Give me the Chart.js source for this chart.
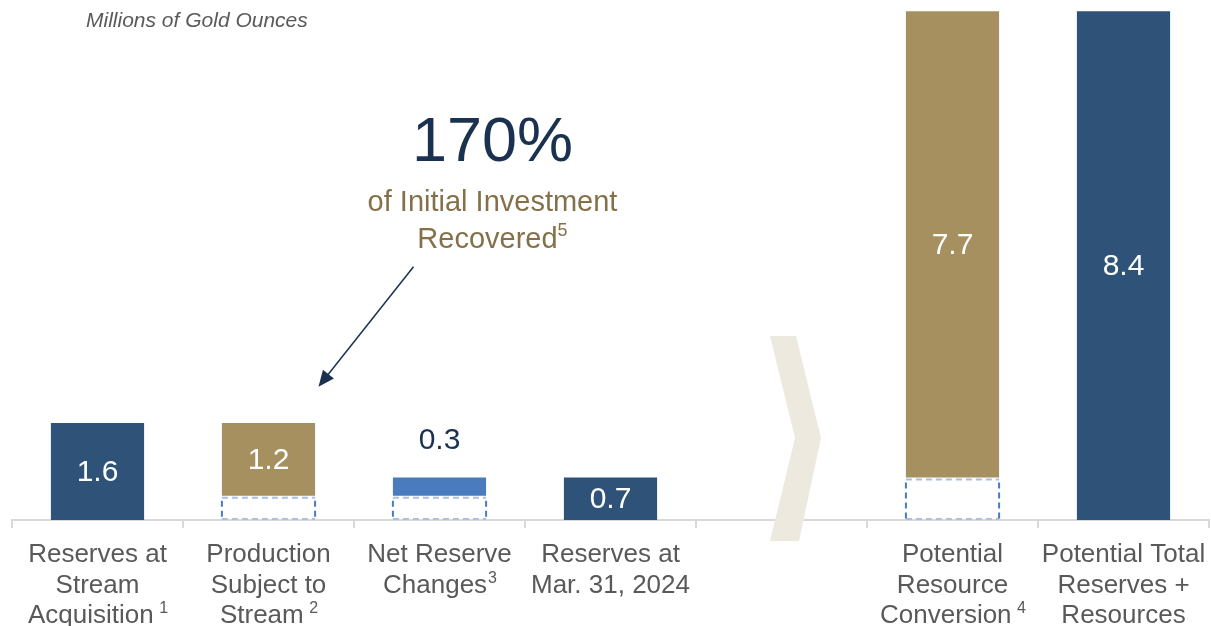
<!DOCTYPE html>
<html><head><meta charset="utf-8">
<script src="https://cdn.jsdelivr.net/npm/chart.js@4.4.1/dist/chart.umd.min.js"></script>
<style>html,body{margin:0;padding:0;background:#fff;overflow:hidden}#wrap{width:1211px;height:626px;position:relative}</style>
</head><body><div id="wrap"><canvas id="c" width="1211" height="626"></canvas></div>
<script>
// ---- data ----
const categories = [
  ["Reserves at", "Stream", "Acquisition"],
  ["Production", "Subject to", "Stream"],
  ["Net Reserve", "Changes"],
  ["Reserves at", "Mar. 31, 2024"],
  [""],
  ["Potential", "Resource", "Conversion"],
  ["Potential Total", "Reserves +", "Resources"]
];
const footnotes = [" 1", " 2", "3", "", "", " 4", ""];
const barStart = [0, 0.4, 0.4, 0, null, 0.7, 0];
const barEnd   = [1.6, 1.6, 0.7, 0.7, null, 8.4, 8.4];
const valueLabels = ["1.6", "1.2", "0.3", "0.7", "", "7.7", "8.4"];
const barKinds = ["total", "step", "change", "total", "", "step", "total"];
const placeholderStart = [null, 0, 0, null, null, 0, null];
const placeholderEnd   = [null, 0.4, 0.4, null, null, 0.7, null];
const yMax = 8.42;

// ---- styles ----
const kindColor = { total: "#2F5279", step: "#A69060", change: "#4A7CBD", "": "rgba(0,0,0,0)" };
const FONT = "'Liberation Sans', Arial, sans-serif";

const rangeOf = (s, e) => s.map((v, i) => (v == null || e[i] == null) ? null : [v, e[i]]);

const overlay = {
  id: "overlay",
  afterDatasetsDraw(chart) {
    const ctx = chart.ctx;
    const xs = chart.scales.x, ys = chart.scales.y, ca = chart.chartArea;
    // dashed placeholder boxes
    const meta1 = chart.getDatasetMeta(1);
    meta1.data.forEach((el, i) => {
      if (placeholderEnd[i] == null) return;
      const p = el.getProps(["x", "y", "base", "width"], true);
      const l = p.x - p.width / 2, r = p.x + p.width / 2;
      const t = Math.min(p.y, p.base) + 2, b = Math.max(p.y, p.base);
      ctx.save();
      ctx.lineWidth = 2;
      ctx.setLineDash([6, 4]);
      ctx.strokeStyle = "#A9C0E4";
      ctx.beginPath(); ctx.moveTo(l, t); ctx.lineTo(r, t); ctx.moveTo(l, b - 1); ctx.lineTo(r, b - 1); ctx.stroke();
      ctx.strokeStyle = "#4A7CBD";
      ctx.beginPath(); ctx.moveTo(l, t + 3); ctx.lineTo(l, b); ctx.moveTo(r, t + 3); ctx.lineTo(r, b); ctx.stroke();
      ctx.restore();
    });
    // value labels
    const meta0 = chart.getDatasetMeta(0);
    meta0.data.forEach((el, i) => {
      if (!valueLabels[i]) return;
      const p = el.getProps(["x", "y", "base"], true);
      const top = Math.min(p.y, p.base), bot = Math.max(p.y, p.base);
      ctx.save();
      ctx.font = "30px " + FONT;
      ctx.textAlign = "center"; ctx.textBaseline = "middle";
      if (bot - top < 40) { ctx.fillStyle = "#1B3150"; ctx.fillText(valueLabels[i], p.x, top - 37); }
      else { ctx.fillStyle = "#FFFFFF"; ctx.fillText(valueLabels[i], p.x, (top + bot) / 2 + 1); }
      ctx.restore();
    });
    // category labels
    ctx.save();
    ctx.fillStyle = "#595959";
    ctx.textBaseline = "alphabetic";
    categories.forEach((lines, i) => {
      const cx = xs.getPixelForValue(i);
      lines.forEach((ln, k) => {
        const y = ca.bottom + 42 + k * 30.5;
        const last = k === lines.length - 1;
        const sup = last ? footnotes[i] : "";
        ctx.font = "26px " + FONT;
        const w = ctx.measureText(ln).width;
        ctx.font = "16px " + FONT;
        const ws = sup ? ctx.measureText(sup).width : 0;
        const x0 = cx - (w + ws) / 2;
        ctx.font = "26px " + FONT; ctx.textAlign = "left";
        ctx.fillText(ln, x0, y);
        if (sup) { ctx.font = "16px " + FONT; ctx.fillText(sup, x0 + w + 1, y - 10); }
      });
    });
    ctx.restore();
  },
  beforeDatasetsDraw(chart) {
    const ctx = chart.ctx, xs = chart.scales.x, ca = chart.chartArea;
    // chevron separator
    const cx = xs.getPixelForValue(4), b = ca.bottom;
    ctx.save();
    ctx.fillStyle = "#EDE9DF";
    ctx.beginPath();
    ctx.moveTo(cx - 11.5, b - 184); ctx.lineTo(cx + 14.5, b - 184); ctx.lineTo(cx + 39.5, b - 82);
    ctx.lineTo(cx + 17.5, b + 21); ctx.lineTo(cx - 11.5, b + 21); ctx.lineTo(cx + 13.5, b - 82);
    ctx.closePath(); ctx.fill();
    ctx.restore();
  },
  afterDraw(chart) {
    const ctx = chart.ctx, xs = chart.scales.x, ys = chart.scales.y;
    ctx.save();
    // unit note
    ctx.fillStyle = "#595959";
    ctx.font = "italic 21px " + FONT;
    ctx.textAlign = "left"; ctx.textBaseline = "alphabetic";
    ctx.fillText("Millions of Gold Ounces", 86, 27);
    // annotation
    const ax = xs.getPixelForValue(2) + 53;
    ctx.textAlign = "center";
    ctx.fillStyle = "#1B3150";
    ctx.font = "63px " + FONT;
    ctx.fillText("170%", ax, 161);
    ctx.fillStyle = "#847149";
    ctx.font = "29px " + FONT;
    ctx.fillText("of Initial Investment", ax, 211);
    ctx.font = "29px " + FONT;
    const w = ctx.measureText("Recovered").width;
    ctx.font = "18px " + FONT;
    const ws = ctx.measureText("5").width;
    ctx.textAlign = "left";
    ctx.font = "29px " + FONT;
    ctx.fillText("Recovered", ax - (w + ws) / 2, 248);
    ctx.font = "18px " + FONT;
    ctx.fillText("5", ax - (w + ws) / 2 + w, 236);
    // arrow
    const x1 = xs.getPixelForValue(1) + 145, y1 = ys.getPixelForValue(4.18);
    const x2 = xs.getPixelForValue(1) + 50, y2 = ys.getPixelForValue(2.2);
    const ang = Math.atan2(y2 - y1, x2 - x1);
    ctx.strokeStyle = "#1B3150"; ctx.fillStyle = "#1B3150"; ctx.lineWidth = 1.5;
    ctx.beginPath(); ctx.moveTo(x1, y1); ctx.lineTo(x2 - 12 * Math.cos(ang), y2 - 12 * Math.sin(ang)); ctx.stroke();
    ctx.beginPath();
    ctx.moveTo(x2, y2);
    ctx.lineTo(x2 - 16 * Math.cos(ang) + 7 * Math.sin(ang), y2 - 16 * Math.sin(ang) - 7 * Math.cos(ang));
    ctx.lineTo(x2 - 16 * Math.cos(ang) - 7 * Math.sin(ang), y2 - 16 * Math.sin(ang) + 7 * Math.cos(ang));
    ctx.closePath(); ctx.fill();
    ctx.restore();
  }
};

new Chart(document.getElementById("c"), {
  type: "bar",
  data: {
    labels: categories.map(c => c.join(" ")),
    datasets: [
      { data: rangeOf(barStart, barEnd), backgroundColor: barKinds.map(k => kindColor[k]),
        borderWidth: 0, grouped: false, barPercentage: 0.545, categoryPercentage: 1, order: 1 },
      { data: rangeOf(placeholderStart, placeholderEnd), backgroundColor: "rgba(0,0,0,0)",
        borderWidth: 0, grouped: false, barPercentage: 0.545, categoryPercentage: 1, order: 2 }
    ]
  },
  options: {
    responsive: false, animation: false,
    layout: { padding: { left: 12, right: 2, top: 10, bottom: 0 } },
    plugins: { legend: { display: false }, tooltip: { enabled: false } },
    scales: {
      x: {
        offset: true,
        grid: { offset: true, drawOnChartArea: false, drawTicks: true, tickLength: 8, color: "#D9D9D9", lineWidth: 2 },
        border: { color: "#D9D9D9", width: 2 },
        ticks: { display: false },
        afterFit: s => { s.height = 106; }
      },
      y: { display: false, min: 0, max: yMax }
    }
  },
  plugins: [overlay]
});
</script>
</body></html>
